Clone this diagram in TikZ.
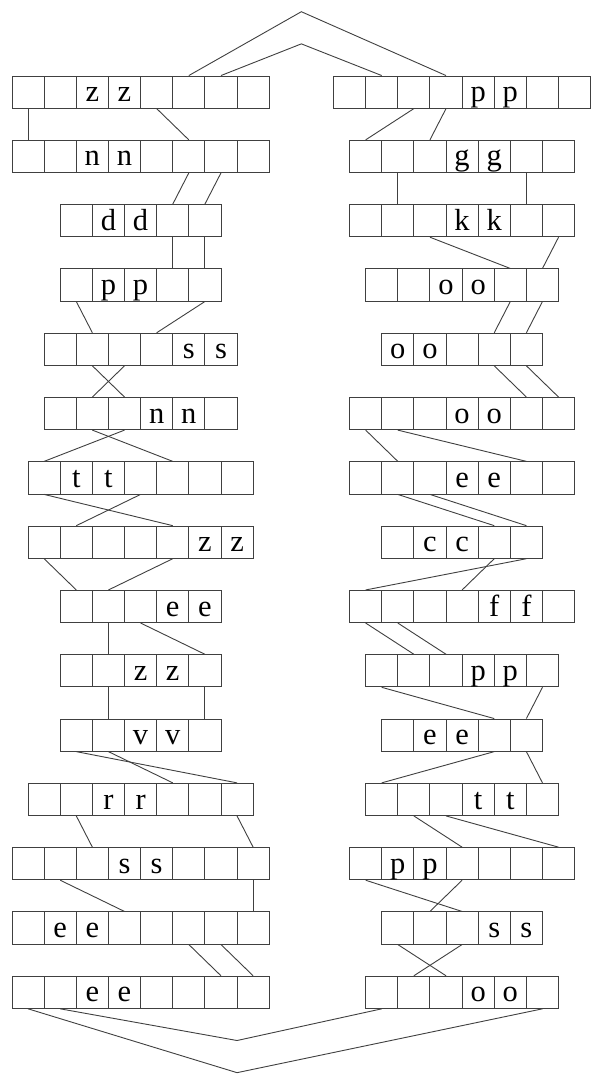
\documentclass[tikz,border=0pt]{standalone}
\usepackage{fontspec}
\setmainfont{Liberation Serif}

\begin{document}
\begin{tikzpicture}[x=0.5cm, y=0.5cm,
    slot/.style={draw=black!75, minimum size=0.5cm, inner sep=0pt,
      text height=8.5pt, text depth=0pt, font=\fontsize{13.5}{16}\selectfont},
    link/.style={black!75}]
  \useasboundingbox (-0.373,2.364) rectangle (18.414,-31.446);
  % rows: name/first x/row/cells/first lettered cell/letter
  \foreach \r/\s/\i/\n/\a/\t in {L1/0/1/8/2/z, L2/0/2/8/2/n, L3/1.5/3/5/1/d,
      L4/1.5/4/5/1/p, L5/1/5/6/4/s, L6/1/6/6/3/n, L7/0.5/7/7/1/t,
      L8/0.5/8/7/5/z, L9/1.5/9/5/3/e, L10/1.5/10/5/2/z, L11/1.5/11/5/2/v,
      L12/0.5/12/7/2/r, L13/0/13/8/3/s, L14/0/14/8/1/e, L15/0/15/8/2/e,
      R1/10/1/8/4/p, R2/10.5/2/7/3/g, R3/10.5/3/7/3/k, R4/11/4/6/2/o,
      R5/11.5/5/5/0/o, R6/10.5/6/7/3/o, R7/10.5/7/7/3/e, R8/11.5/8/5/1/c,
      R9/10.5/9/7/4/f, R10/11/10/6/3/p, R11/11.5/11/5/1/e, R12/11/12/6/3/t,
      R13/10.5/13/7/1/p, R14/11.5/14/5/3/s, R15/11/15/6/3/o}{
    \pgfmathtruncatemacro\last{\n-1}
    \foreach \k in {0,...,\last}
      \node[slot] (\r-\k) at (\s+\k+0.5, 1.5-2*\i)
        {\ifnum\k=\a\relax\t\fi\ifnum\k=\numexpr\a+1\relax\t\fi};
  }
  % links between rows
  \foreach \u/\v in {L1-0/L2-0, L1-4/L2-5, L2-5/L3-3, L2-6/L3-4,
      L3-3/L4-3, L3-4/L4-4, L4-0/L5-1, L4-4/L5-3, L5-1/L6-2, L5-2/L6-1,
      L6-1/L7-4, L6-2/L7-0, L7-0/L8-4, L7-3/L8-1, L8-0/L9-0, L8-4/L9-1,
      L9-1/L10-1, L9-2/L10-4, L10-1/L11-1, L10-4/L11-4, L11-0/L12-6,
      L11-1/L12-4, L12-1/L13-2, L12-6/L13-7, L13-1/L14-3, L13-7/L14-7,
      L14-5/L15-6, L14-6/L15-7,
      R1-2/R2-0, R1-3/R2-2, R2-1/R3-1, R2-5/R3-5, R3-2/R4-4, R3-6/R4-5,
      R4-4/R5-3, R4-5/R5-4, R5-3/R6-5, R5-4/R6-6, R6-0/R7-1, R6-1/R7-5,
      R7-1/R8-3, R7-2/R8-4, R8-3/R9-3, R8-4/R9-0, R9-0/R10-1, R9-1/R10-2,
      R10-0/R11-3, R10-5/R11-4, R11-3/R12-0, R11-4/R12-5, R12-1/R13-3,
      R12-2/R13-6, R13-0/R14-2, R13-3/R14-1, R14-0/R15-2, R14-2/R15-1}
    \draw[link] (\u.south) -- (\v.north);
  % the two columns joined at top and bottom
  \coordinate (peakout) at (9,2);
  \coordinate (peakin) at (9,1);
  \coordinate (valin) at (7,-30);
  \coordinate (valout) at (7,-31);
  \draw[link] (L1-5.north) -- (peakout) -- (R1-3.north);
  \draw[link] (L1-6.north) -- (peakin) -- (R1-1.north);
  \draw[link] (L15-1.south) -- (valin) -- (R15-0.south);
  \draw[link] (L15-0.south) -- (valout) -- (R15-5.south);
\end{tikzpicture}
\end{document}
